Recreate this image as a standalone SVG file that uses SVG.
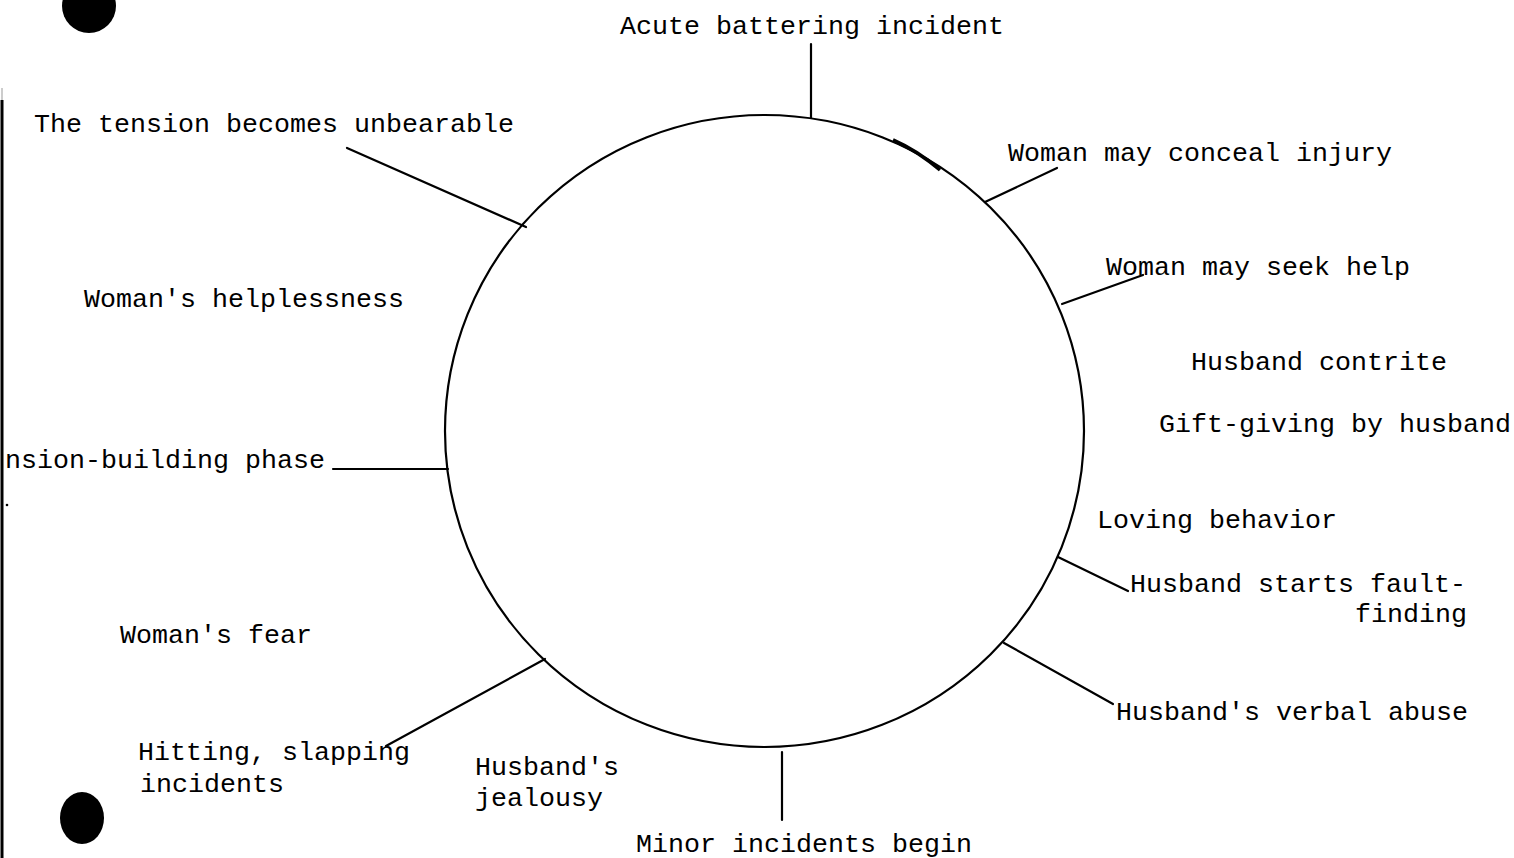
<svg xmlns="http://www.w3.org/2000/svg" width="1514" height="858" viewBox="0 0 1514 858">
<style>
  .lbl { font-family: "Liberation Mono", "Courier New", monospace; font-size: 26.67px; fill: #000; }
  .ln { stroke: #000; stroke-width: 2.2; fill: none; stroke-linecap: round; }
  .ring { stroke: #000; stroke-width: 2.2; fill: none; }
</style>
<rect width="1514" height="858" fill="#fff"/>
<!-- page artifacts -->
<g id="page">
  <circle cx="89" cy="6" r="27" fill="#000"/>
  <ellipse cx="82" cy="818" rx="22" ry="26" fill="#000"/>
  <line x1="2" y1="88" x2="2" y2="100" stroke="#bbb" stroke-width="1.5"/>
  <line x1="2" y1="100" x2="2" y2="858" stroke="#000" stroke-width="3"/>
  <circle cx="7" cy="505" r="1.3" fill="#000"/>
</g>
<g id="cycle">
  <ellipse class="ring" cx="764.5" cy="431" rx="319.5" ry="316"/>
  <path d="M 893 140 Q 918 151 940 170" stroke="#000" stroke-width="3.6" fill="none"/>
</g>
<g id="connectors">
  <line class="ln" x1="811" y1="44" x2="811" y2="118"/>
  <line class="ln" x1="347" y1="148" x2="526" y2="227"/>
  <line class="ln" x1="985" y1="202" x2="1057" y2="168"/>
  <line class="ln" x1="1062" y1="304" x2="1143" y2="275"/>
  <line class="ln" x1="333" y1="469" x2="448" y2="469"/>
  <line class="ln" x1="1058" y1="557" x2="1128" y2="591"/>
  <line class="ln" x1="1004" y1="643" x2="1113" y2="704"/>
  <line class="ln" x1="782" y1="752" x2="782" y2="820"/>
  <line class="ln" x1="545" y1="659" x2="386" y2="746"/>
</g>
<g id="n-acute"><text class="lbl" x="620" y="34">Acute battering incident</text></g>
<g id="n-unbearable"><text class="lbl" x="34" y="132">The tension becomes unbearable</text></g>
<g id="n-conceal"><text class="lbl" x="1008" y="161">Woman may conceal injury</text></g>
<g id="n-seekhelp"><text class="lbl" x="1106" y="275">Woman may seek help</text></g>
<g id="n-helpless"><text class="lbl" x="84" y="307">Woman's helplessness</text></g>
<g id="n-contrite"><text class="lbl" x="1191" y="370">Husband contrite</text></g>
<g id="n-gift"><text class="lbl" x="1159" y="432">Gift-giving by husband</text></g>
<g id="n-tension"><text class="lbl" x="5" y="468">nsion-building phase</text></g>
<g id="n-loving"><text class="lbl" x="1097" y="528">Loving behavior</text></g>
<g id="n-fault"><text class="lbl" x="1130" y="592">Husband starts fault-</text><text class="lbl" x="1355" y="622">finding</text></g>
<g id="n-verbal"><text class="lbl" x="1116" y="720">Husband's verbal abuse</text></g>
<g id="n-fear"><text class="lbl" x="120" y="643">Woman's fear</text></g>
<g id="n-hitting"><text class="lbl" x="138" y="760">Hitting, slapping</text><text class="lbl" x="140" y="792">incidents</text></g>
<g id="n-jealousy"><text class="lbl" x="475" y="775">Husband's</text><text class="lbl" x="475" y="806">jealousy</text></g>
<g id="n-minor"><text class="lbl" x="636" y="852">Minor incidents begin</text></g>
</svg>
